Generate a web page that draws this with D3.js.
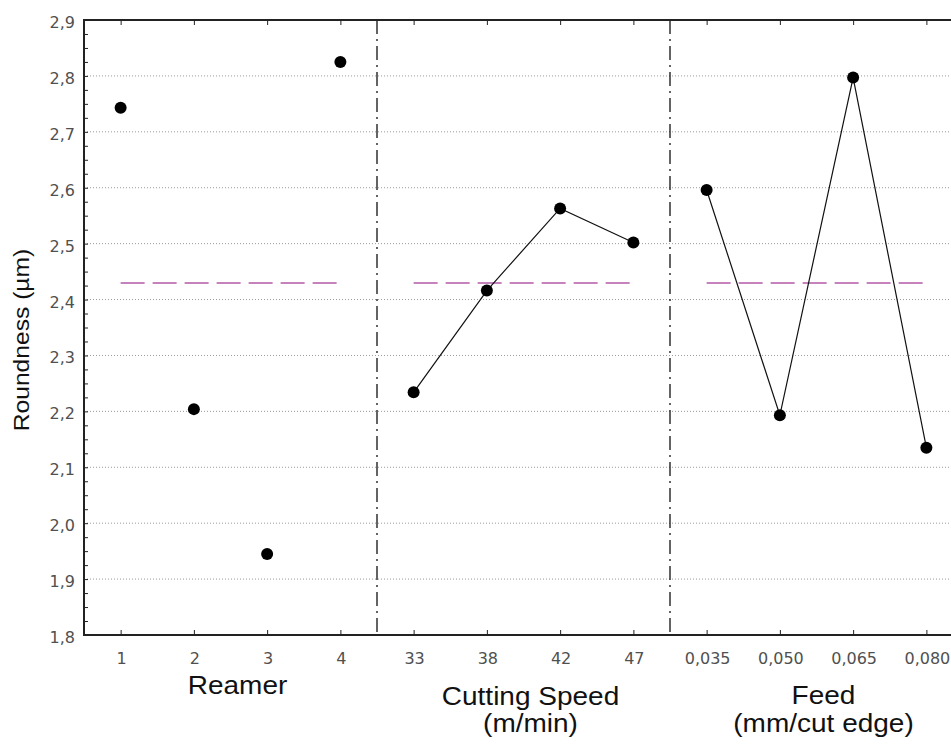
<!DOCTYPE html>
<html>
<head>
<meta charset="utf-8">
<script src="https://cdn.jsdelivr.net/npm/d3@7"></script>
<style>
  body { margin: 0; background: #fff; }
  svg { display: block; }
  .tick-label { font-family: "DejaVu Sans", sans-serif; font-size: 16px; fill: #505050; }
  .title { font-family: "Liberation Sans", Arial, sans-serif; font-size: 25px; fill: #111; }
</style>
</head>
<body>
<div id="root"></div>
<script>
const WIDTH = 951
const HEIGHT = 744
const PLOT_LEFT = 84
const PLOT_RIGHT = 963
const PLOT_TOP = 20
const PLOT_BOTTOM = 635
const TEXT_STRETCH = 1.12

// data
const reamerLabels = ['1', '2', '3', '4']
const reamerValues = [2.743, 2.204, 1.945, 2.825]
const speedLabels = ['33', '38', '42', '47']
const speedValues = [2.234, 2.416, 2.563, 2.502]
const feedLabels = ['0,035', '0,050', '0,065', '0,080']
const feedValues = [2.596, 2.193, 2.797, 2.135]
const yTicks = [1.8, 1.9, 2.0, 2.1, 2.2, 2.3, 2.4, 2.5, 2.6, 2.7, 2.8, 2.9]

const groups = [
  { key: 'reamer', title: ['Reamer'], labels: reamerLabels, values: reamerValues, connect: false },
  { key: 'speed', title: ['Cutting Speed', '(m/min)'], labels: speedLabels, values: speedValues, connect: true },
  { key: 'feed', title: ['Feed', '(mm/cut edge)'], labels: feedLabels, values: feedValues, connect: true }
]

const points = groups.flatMap(g => g.labels.map((l, i) => ({
  group: g.key, id: `${g.key}-${l}`, label: l, value: g.values[i]
})))

const xScale = d3.scalePoint()
  .domain(points.map(d => d.id))
  .range([PLOT_LEFT, PLOT_RIGHT])
  .padding(0.5)

const yScale = d3.scaleLinear()
  .domain([1.8, 2.9])
  .range([PLOT_BOTTOM, PLOT_TOP])

const fmt = v => d3.format('.1f')(v).replace('.', ',')

const svg = d3.select('#root')
  .append('svg')
  .attr('width', WIDTH)
  .attr('height', HEIGHT)

// dotted grid
svg.append('g')
  .selectAll('line')
  .data(yTicks.slice(1, -1))
  .enter()
  .append('line')
  .attr('x1', PLOT_LEFT)
  .attr('x2', PLOT_RIGHT)
  .attr('y1', d => yScale(d))
  .attr('y2', d => yScale(d))
  .attr('stroke', '#9a9a9a')
  .attr('stroke-width', 1)
  .attr('stroke-dasharray', '1,2')

// group dividers
const step = xScale.step()
const dividers = groups.slice(1).map(g => xScale(`${g.key}-${g.labels[0]}`) - step / 2)
svg.append('g')
  .selectAll('line')
  .data(dividers)
  .enter()
  .append('line')
  .attr('x1', d => d)
  .attr('x2', d => d)
  .attr('y1', PLOT_TOP)
  .attr('y2', PLOT_BOTTOM)
  .attr('stroke', '#111')
  .attr('stroke-width', 1.3)
  .attr('stroke-dasharray', '14,5,2,5')

// y axis with minor ticks (inward)
const yAxis = d3.axisRight(yScale)
  .tickValues(d3.range(1.8, 2.9001, 0.025))
  .tickSize(4)
  .tickFormat('')
svg.append('g')
  .attr('transform', `translate(${PLOT_LEFT}, 0)`)
  .call(yAxis)
  .call(g => g.select('.domain').remove())
  .call(g => g.selectAll('line').attr('stroke', '#222'))

svg.append('g')
  .selectAll('text')
  .data(yTicks)
  .enter()
  .append('text')
  .attr('class', 'tick-label')
  .attr('x', PLOT_LEFT - 9)
  .attr('y', d => yScale(d) + 8)
  .attr('text-anchor', 'end')
  .text(fmt)

// x axis bottom/top ticks (inward)
const xBottom = d3.axisTop(xScale).tickSize(5).tickFormat('')
svg.append('g')
  .attr('transform', `translate(0, ${PLOT_BOTTOM})`)
  .call(xBottom)
  .call(g => g.select('.domain').remove())
  .call(g => g.selectAll('line').attr('stroke', '#222'))

const xTop = d3.axisBottom(xScale).tickSize(5).tickFormat('')
svg.append('g')
  .attr('transform', `translate(0, ${PLOT_TOP})`)
  .call(xTop)
  .call(g => g.select('.domain').remove())
  .call(g => g.selectAll('line').attr('stroke', '#222'))

svg.append('g')
  .selectAll('text')
  .data(points)
  .enter()
  .append('text')
  .attr('class', 'tick-label')
  .attr('x', d => xScale(d.id) + 1)
  .attr('y', PLOT_BOTTOM + 29)
  .attr('text-anchor', 'middle')
  .text(d => d.label)

// frame lines
svg.append('path')
  .attr('d', `M${PLOT_RIGHT},${PLOT_TOP}H${PLOT_LEFT}V${PLOT_BOTTOM}H${PLOT_RIGHT}`)
  .attr('fill', 'none')
  .attr('stroke', '#222')
  .attr('stroke-width', 2)

// mean lines per group
const grandMean = d3.mean(points, d => d.value)
groups.forEach(g => {
  const first = xScale(`${g.key}-${g.labels[0]}`)
  const last = xScale(`${g.key}-${g.labels[g.labels.length - 1]}`)
  svg.append('line')
    .attr('x1', first)
    .attr('x2', last)
    .attr('y1', yScale(grandMean))
    .attr('y2', yScale(grandMean))
    .attr('stroke', '#b45aa8')
    .attr('stroke-width', 1.5)
    .attr('stroke-dasharray', '24,8')
})

// connecting lines
const line = d3.line()
  .x(d => xScale(d.id))
  .y(d => yScale(d.value))

groups.filter(g => g.connect).forEach(g => {
  svg.append('path')
    .datum(points.filter(p => p.group === g.key))
    .attr('d', line)
    .attr('fill', 'none')
    .attr('stroke', '#111')
    .attr('stroke-width', 1.2)
})

svg.append('g')
  .selectAll('circle')
  .data(points)
  .enter()
  .append('circle')
  .attr('cx', d => xScale(d.id))
  .attr('cy', d => yScale(d.value))
  .attr('r', 6)
  .attr('fill', '#000')

// group titles
const titleOffsets = { reamer: [694], speed: [705, 732], feed: [704, 732] }
groups.forEach(g => {
  const first = xScale(`${g.key}-${g.labels[0]}`)
  const last = xScale(`${g.key}-${g.labels[g.labels.length - 1]}`)
  g.title.forEach((t, i) => {
    svg.append('text')
      .attr('class', 'title')
      .attr('transform', `translate(${(first + last) / 2 + 7}, ${titleOffsets[g.key][i]}) scale(${TEXT_STRETCH}, 1)`)
      .attr('text-anchor', 'middle')
      .text(t)
  })
})

svg.append('text')
  .attr('class', 'title')
  .style('font-size', '22px')
  .attr('transform', `translate(29, 340) rotate(-90) scale(${TEXT_STRETCH}, 1)`)
  .attr('text-anchor', 'middle')
  .text('Roundness (µm)')
</script>
</body>
</html>
